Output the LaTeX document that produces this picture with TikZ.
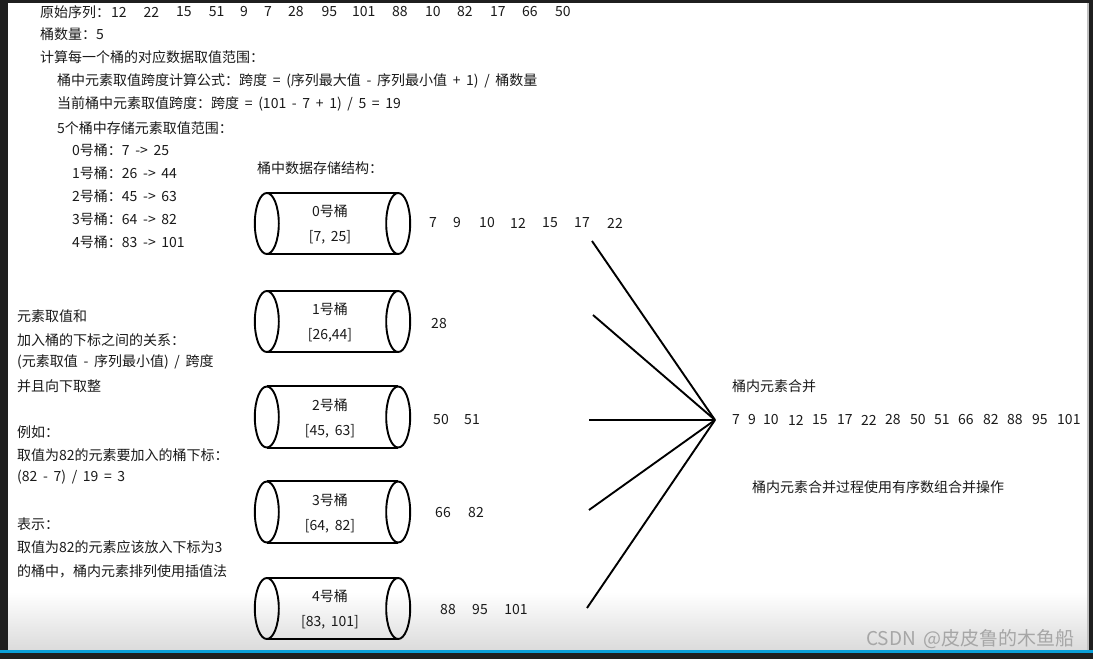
\documentclass[tikz,border=0pt]{standalone}
\usepackage{fontspec}
\setmainfont[WordSpace=1.8]{Noto Sans CJK SC}
\usetikzlibrary{positioning}

\definecolor{inkgray}{HTML}{1A1A1A}
\definecolor{framedark}{HTML}{1F1F1F}
\definecolor{barblue}{HTML}{0A9FD8}

\tikzset{
  txt/.style={anchor=west, inner sep=0pt, text=inkgray, font=\fontsize{14}{16}\selectfont},
  num/.style={inner sep=0pt, text=inkgray, font=\fontsize{14}{16}\selectfont},
  rim/.style={line width=1.9pt, black},
  link/.style={line width=1.9pt, black},
  bucket/.style={minimum width=131pt, minimum height=61pt, inner sep=0pt},
}

\begin{document}
\begin{tikzpicture}[x=1pt,y=-1pt]
    % screen frame
    \fill[framedark] (0,0) rectangle (1093,659);
    \fill[white] (8,3) rectangle (1087,650);
    \shade[top color=white, bottom color=black!14] (8,592) rectangle (1087,650);
    \fill[black!25] (1087,3) rectangle (1089,650);
    \fill[barblue] (0,650) rectangle (1093,653);

    % header: sequence and bucket ranges
    \node[txt] (seq) at (40,12) {原始序列：};
    \foreach \v/\x [count=\k] in {12/111,22/143.5,15/176,51/208.6,9/240,7/264,28/288,95/321.5,101/352,88/392,10/425,82/457,17/490,66/522,50/555}
        \node[num, anchor=west] (sq\k) at (\x,12) {\v};
    \node[txt] (cnt) at (40,34) {桶数量：5};
    \node[txt] (calc) at (40,57) {计算每一个桶的对应数据取值范围：};
    \node[txt] (rule) at (57,81) {桶中元素取值跨度计算公式：跨度 = (序列最大值 - 序列最小值 + 1) / 桶数量};
    \node[txt] (span) at (57,104) {当前桶中元素取值跨度：跨度 = (101 - 7 + 1) / 5 = 19};
    \node[txt] (ranges) at (57,128) {5个桶中存储元素取值范围：};
    \foreach \idx/\bnd [count=\k from 0] in {0/{7 -> 25},1/{26 -> 44},2/{45 -> 63},3/{64 -> 82},4/{83 -> 101}}
        \node[txt] (rng\idx) at (72,150+23*\k) {\idx{}号桶：\bnd};

    % left notes
    \foreach \t/\y [count=\k] in {元素取值和/316, 加入桶的下标之间的关系：/340, {(元素取值 - 序列最小值) / 跨度}/362, 并且向下取整/386, 例如：/432, 取值为82的元素要加入的桶下标：/455, {(82 - 7) / 19 = 3}/477, 表示：/524, 取值为82的元素应该放入下标为3/547, 的桶中，桶内元素排列使用插值法/571}
        \node[txt] (note\k) at (17,\y) {\t};

    % buckets
    \node[txt] (store) at (257,168) {桶中数据存储结构：};
    \foreach \idx/\bnd/\y in {0/{[7, 25]}/223.5, 1/{[26,44]}/321.5, 2/{[45, 63]}/417, 3/{[64, 82]}/512, 4/{[83, 101]}/608.5} {
        \node[bucket] (b\idx) at (332.5,\y) {};
        \draw[rim] (b\idx.north west) -- (b\idx.north east)
                   (b\idx.south west) -- (b\idx.south east);
        \draw[rim] (b\idx.west) ellipse [x radius=12pt, y radius=30.5pt];
        \draw[rim] (b\idx.east) ellipse [x radius=12pt, y radius=30.5pt];
        \node[num] (bn\idx) at (330,\y-12) {\idx{}号桶};
        \node[num] (br\idx) at (330,\y+14) {\bnd};
    }

    % bucket contents
    \foreach \v/\x [count=\k] in {7/433,9/457,10/487,12/518,15/550,17/582,22/615}
        \node[num] (ea\k) at (\x,223) {\v};
    \node[num] (eb1) at (439,324) {28};
    \foreach \v/\x [count=\k] in {50/441,51/472}
        \node[num] (ec\k) at (\x,420) {\v};
    \foreach \v/\x [count=\k] in {66/443,82/476}
        \node[num] (ed\k) at (\x,513) {\v};
    \foreach \v/\x [count=\k] in {88/448,95/480,101/516}
        \node[num] (ee\k) at (\x,610) {\v};

    % merge lines
    \coordinate (m) at (715,420);
    \coordinate (s0) at (592,241);
    \coordinate (s1) at (593,315);
    \coordinate (s2) at (589,420);
    \coordinate (s3) at (589,510);
    \coordinate (s4) at (587,608);
    \foreach \k in {0,...,4}
        \draw[link] (s\k) -- (m);

    \node[txt] (mtitle) at (732,386) {桶内元素合并};
    \foreach \v/\x [count=\k] in {7/732,9/748,10/763,12/788,15/812,17/837,22/861,28/885,50/910,51/934,66/958,82/983,88/1007,95/1032,101/1057}
        \node[num, anchor=west] (mg\k) at (\x,420) {\v};
    \node[txt] (mnote) at (752,487) {桶内元素合并过程使用有序数组合并操作};

    % watermark
    \node[txt, text=black!35, font=\fontsize{19}{21}\selectfont] (wm) at (866,639) {CSDN @皮皮鲁的木鱼船};
\end{tikzpicture}
\end{document}
